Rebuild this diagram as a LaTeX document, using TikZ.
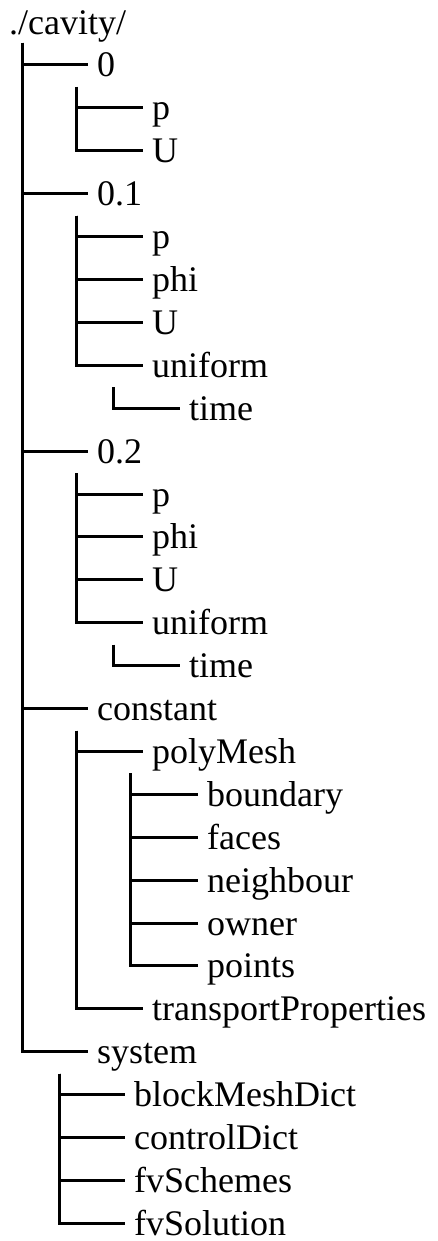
\documentclass[tikz,border=0pt]{standalone}
\usepackage{fontspec}
\setmainfont{Liberation Serif}

\tikzset{
  entry/.style={anchor=west, inner sep=0pt, text height=24pt, text depth=0pt,
    font=\fontsize{36}{43}\selectfont},
  branch/.style={line width=3pt, line join=miter}
}

\begin{document}
\begin{tikzpicture}[x=1pt, y=-1pt]
        \useasboundingbox (0,0) rectangle (438,1241);

        \node[entry] (root) at (9,22.1) {./cavity/};

        % first level
        \node[entry] (t0) at (97,65) {0};
        \node[entry] (t0p) at (152,107.9) {p};
        \node[entry] (t0U) at (152,150.8) {U};
        \node[entry] (t1) at (97,193.7) {0.1};
        \node[entry] (t1p) at (152,236.6) {p};
        \node[entry] (t1phi) at (152,279.5) {phi};
        \node[entry] (t1U) at (152,322.4) {U};
        \node[entry] (t1uni) at (152,365.3) {uniform};
        \node[entry] (t1time) at (189,408.2) {time};
        \node[entry] (t2) at (97,451.1) {0.2};
        \node[entry] (t2p) at (152,494) {p};
        \node[entry] (t2phi) at (152,536.9) {phi};
        \node[entry] (t2U) at (152,579.8) {U};
        \node[entry] (t2uni) at (152,622.7) {uniform};
        \node[entry] (t2time) at (189,665.6) {time};
        \node[entry] (const) at (97,708.5) {constant};
        \node[entry] (mesh) at (152,751.4) {polyMesh};
        \node[entry] (bound) at (207,794.3) {boundary};
        \node[entry] (faces) at (207,837.2) {faces};
        \node[entry] (neigh) at (207,880.1) {neighbour};
        \node[entry] (owner) at (207,923) {owner};
        \node[entry] (points) at (207,965.9) {points};
        \node[entry] (trans) at (152,1008.8) {transportProperties};
        \node[entry] (sys) at (97,1051.7) {system};
        \node[entry] (block) at (134,1094.6) {blockMeshDict};
        \node[entry] (ctrl) at (134,1137.5) {controlDict};
        \node[entry] (schemes) at (134,1180.4) {fvSchemes};
        \node[entry] (solution) at (134,1223.3) {fvSolution};

        % tops of the vertical lines
        \coordinate (rootv) at (22,43);
        \coordinate (t0v) at (76,87);
        \coordinate (t1v) at (76,215.7);
        \coordinate (t1univ) at (113,387.3);
        \coordinate (t2v) at (76,473.1);
        \coordinate (t2univ) at (113,644.7);
        \coordinate (constv) at (76,730.5);
        \coordinate (meshv) at (130,773.4);
        \coordinate (sysv) at (59,1073.7);

        \draw[branch] (rootv) |- ([xshift=-9pt]t0.west);
        \draw[branch] (rootv) |- ([xshift=-9pt]t1.west);
        \draw[branch] (rootv) |- ([xshift=-9pt]t2.west);
        \draw[branch] (rootv) |- ([xshift=-9pt]const.west);
        \draw[branch] (rootv) |- ([xshift=-9pt]sys.west);

        \draw[branch] (t0v) |- ([xshift=-9pt]t0p.west);
        \draw[branch] (t0v) |- ([xshift=-9pt]t0U.west);

        \draw[branch] (t1v) |- ([xshift=-9pt]t1p.west);
        \draw[branch] (t1v) |- ([xshift=-9pt]t1phi.west);
        \draw[branch] (t1v) |- ([xshift=-9pt]t1U.west);
        \draw[branch] (t1v) |- ([xshift=-9pt]t1uni.west);
        \draw[branch] (t1univ) |- ([xshift=-9pt]t1time.west);

        \draw[branch] (t2v) |- ([xshift=-9pt]t2p.west);
        \draw[branch] (t2v) |- ([xshift=-9pt]t2phi.west);
        \draw[branch] (t2v) |- ([xshift=-9pt]t2U.west);
        \draw[branch] (t2v) |- ([xshift=-9pt]t2uni.west);
        \draw[branch] (t2univ) |- ([xshift=-9pt]t2time.west);

        \draw[branch] (constv) |- ([xshift=-9pt]mesh.west);
        \draw[branch] (constv) |- ([xshift=-9pt]trans.west);
        \draw[branch] (meshv) |- ([xshift=-9pt]bound.west);
        \draw[branch] (meshv) |- ([xshift=-9pt]faces.west);
        \draw[branch] (meshv) |- ([xshift=-9pt]neigh.west);
        \draw[branch] (meshv) |- ([xshift=-9pt]owner.west);
        \draw[branch] (meshv) |- ([xshift=-9pt]points.west);

        \draw[branch] (sysv) |- ([xshift=-9pt]block.west);
        \draw[branch] (sysv) |- ([xshift=-9pt]ctrl.west);
        \draw[branch] (sysv) |- ([xshift=-9pt]schemes.west);
        \draw[branch] (sysv) |- ([xshift=-9pt]solution.west);
\end{tikzpicture}
\end{document}
